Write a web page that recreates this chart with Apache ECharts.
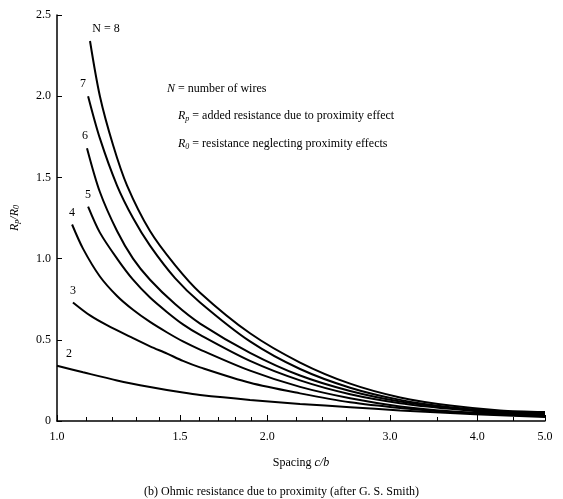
<!DOCTYPE html>
<html><head><meta charset="utf-8">
<script src="https://cdn.jsdelivr.net/npm/echarts@6/dist/echarts.min.js"></script>
<style>html,body{margin:0;padding:0;background:#fff}#c{width:563px;height:499px}</style>
</head><body><div id="c"></div>
<script>
// Spacing c/b (x) vs Rp/R0 (y)
const n2 = [[1.0,0.34],[1.090,0.30],[1.219,0.25],[1.359,0.21],[1.515,0.175],[1.603,0.16],[1.890,0.13],[2.229,0.105],[2.629,0.085],[3.100,0.065],[3.656,0.05],[4.312,0.035],[5.0,0.025]];
const n3 = [[1.054,0.73],[1.115,0.65],[1.179,0.59],[1.285,0.51],[1.359,0.46],[1.438,0.415],[1.515,0.37],[1.603,0.33],[1.890,0.235],[2.229,0.17],[2.629,0.115],[3.100,0.08],[3.656,0.055],[4.312,0.04],[5.0,0.03]];
const n4 = [[1.051,1.21],[1.090,1.06],[1.152,0.89],[1.219,0.77],[1.285,0.685],[1.359,0.61],[1.438,0.545],[1.515,0.49],[1.603,0.44],[1.890,0.31],[2.229,0.21],[2.629,0.14],[3.100,0.09],[3.656,0.06],[4.312,0.045],[5.0,0.035]];
const n5 = [[1.108,1.32],[1.152,1.16],[1.219,1.00],[1.285,0.87],[1.359,0.76],[1.438,0.67],[1.515,0.595],[1.603,0.53],[1.890,0.37],[2.229,0.25],[2.629,0.165],[3.100,0.11],[3.656,0.075],[4.312,0.05],[5.0,0.04]];
const n6 = [[1.104,1.68],[1.152,1.41],[1.219,1.17],[1.285,1.00],[1.359,0.87],[1.476,0.72],[1.603,0.60],[1.890,0.42],[2.229,0.28],[2.629,0.185],[3.100,0.12],[3.656,0.08],[4.312,0.055],[5.0,0.045]];
const n7 = [[1.108,2.00],[1.152,1.74],[1.219,1.45],[1.285,1.25],[1.359,1.08],[1.476,0.88],[1.603,0.73],[1.890,0.49],[2.229,0.32],[2.629,0.205],[3.100,0.13],[3.656,0.085],[4.312,0.06],[5.0,0.05]];
const n8 = [[1.115,2.34],[1.152,2.00],[1.203,1.70],[1.260,1.45],[1.359,1.17],[1.476,0.96],[1.603,0.79],[1.890,0.54],[2.229,0.36],[2.629,0.23],[3.100,0.145],[3.656,0.095],[4.312,0.065],[5.0,0.055]];
const curveNames = ['2','3','4','5','6','7','N = 8'];
const xLabels = [1, 1.5, 2, 3, 4, 5];
const xMinorTicks = [1.1,1.2,1.3,1.4,1.6,1.7,1.8,1.9,2.2,2.4,2.6,2.8,3.5,4.5];
const yLabels = [0, 0.5, 1.0, 1.5, 2.0, 2.5];

const serif = "'Liberation Serif', 'DejaVu Serif', serif";
const curves = [n2,n3,n4,n5,n6,n7,n8];
const labelOffsets = [[12,0],[0,0],[0,0],[0,0],[-2,0],[-5,0],[16,0]];

const series = curves.map((d, i) => ({
  type: 'line', smooth: 0.3,
  showSymbol: true, symbol: 'circle', symbolSize: 0,
  itemStyle: { color: '#000' },
  lineStyle: { color: '#000', width: 2 },
  label: { show: false },
  data: d.map((p, j) => j === 0 ? {
      value: p,
      label: { show: true, position: 'top', distance: 6, offset: labelOffsets[i],
               formatter: curveNames[i], color: '#000', fontFamily: serif, fontSize: 12 }
    } : p),
  animation: false, silent: true
}));

const chart = echarts.init(document.getElementById('c'));
chart.setOption({
  animation: false,
  backgroundColor: '#fff',
  grid: { left: 57, right: 18, top: 15, bottom: 78 },
  title: {
    text: '(b) Ohmic resistance due to proximity (after G. S. Smith)',
    left: 'center', top: 481,
    textStyle: { fontFamily: serif, fontSize: 12, fontWeight: 'normal', color: '#000' }
  },
  xAxis: [{
    type: 'log', logBase: 10, min: 1, max: 5,
    name: '{n|Spacing }{i|c/b}', nameLocation: 'middle', nameGap: 36,
    nameTextStyle: { rich: { n: { fontFamily: serif, fontSize: 12, color: '#000' },
                             i: { fontFamily: serif, fontSize: 12, fontStyle: 'italic', color: '#000' } } },
    axisLine: { lineStyle: { color: '#000', width: 1.5 } },
    axisTick: { inside: true, length: 6, customValues: xLabels, lineStyle: { color: '#000' } },
    minorTick: { show: false },
    splitLine: { show: false },
    axisLabel: { customValues: xLabels, formatter: v => Number(v).toFixed(1),
                 fontFamily: serif, fontSize: 12, color: '#000', margin: 10 }
  }, {
    type: 'log', logBase: 10, min: 1, max: 5, position: 'bottom',
    axisLine: { show: false },
    axisTick: { inside: true, length: 4, customValues: xMinorTicks, lineStyle: { color: '#000' } },
    axisLabel: { show: false }, splitLine: { show: false }
  }],
  yAxis: {
    type: 'value', min: 0, max: 2.5, interval: 0.5,
    name: '{i|R}{s|p}{i|/R}{s|0}', nameLocation: 'middle', nameGap: 36, nameRotate: 90,
    nameTextStyle: { rich: { i: { fontFamily: serif, fontSize: 12, fontStyle: 'italic', color: '#000' },
                             s: { fontFamily: serif, fontSize: 8, fontStyle: 'italic', color: '#000', verticalAlign: 'bottom', padding: [4,0,0,0] } } },
    axisLine: { show: true, lineStyle: { color: '#000', width: 1.5 } },
    axisTick: { show: true, inside: true, length: 5, lineStyle: { color: '#000' } },
    splitLine: { show: false },
    axisLabel: { formatter: v => v === 0 ? '0' : v.toFixed(1), fontFamily: serif, fontSize: 12, color: '#000', margin: 6 }
  },
  graphic: [
    { type: 'text', left: 167, top: 83, style: { rich: {
        i: { fontFamily: serif, fontSize: 12, fontStyle: 'italic', fill: '#000' },
        n: { fontFamily: serif, fontSize: 12, fill: '#000' } },
      text: '{i|N}{n| = number of wires}' } },
    { type: 'text', left: 178, top: 110, style: { rich: {
        i: { fontFamily: serif, fontSize: 12, fontStyle: 'italic', fill: '#000' },
        s: { fontFamily: serif, fontSize: 8, fontStyle: 'italic', fill: '#000', padding: [6,0,0,0] },
        n: { fontFamily: serif, fontSize: 12, fill: '#000' } },
      text: '{i|R}{s|p}{n| = added resistance due to proximity effect}' } },
    { type: 'text', left: 178, top: 138, style: { rich: {
        i: { fontFamily: serif, fontSize: 12, fontStyle: 'italic', fill: '#000' },
        s: { fontFamily: serif, fontSize: 8, fontStyle: 'italic', fill: '#000', padding: [6,0,0,0] },
        n: { fontFamily: serif, fontSize: 12, fill: '#000' } },
      text: '{i|R}{s|0}{n| = resistance neglecting proximity effects}' } }
  ],
  series: series
});
</script></body></html>
